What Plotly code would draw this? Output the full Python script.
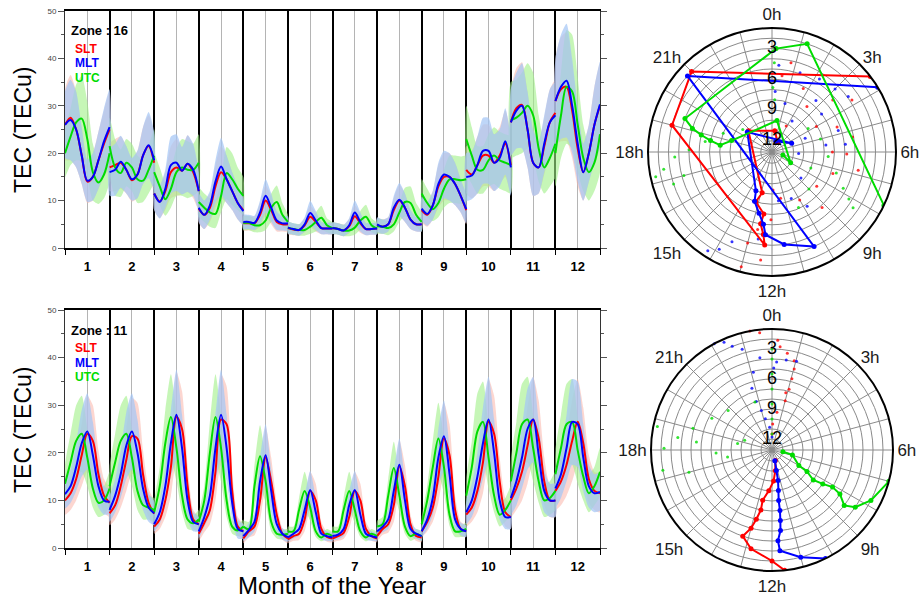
import plotly.graph_objects as go

# ---------------- data ----------------
HOURS = [0, 3, 6, 9, 12, 15, 18, 21, 24]
MONTHS = list(range(1, 13))
MONTH_LABELS = [str(m) for m in MONTHS]
Y_TICKS = [0, 10, 20, 30, 40, 50]
HOUR_LABELS = ['0h', '3h', '6h', '9h', '12h', '15h', '18h', '21h']
RADIAL_LABELS = [3, 6, 9, 12]

# Zone 16 (top), TEC per month at HOURS (local time within the month box)
z16_slt = [
    [26, 27.5, 25, 19.5, 14, 15, 18.5, 22, 25],
    [17, 17.5, 18, 16.5, 14.3, 15.5, 19.5, 21.5, 18],
    [11.5, 9.8, 12, 16, 17, 16.3, 17.8, 16, 12],
    [8.3, 7, 8.5, 13, 16, 14.5, 12, 9.5, 8],
    [5.2, 5.2, 5.2, 7, 10, 8, 5.5, 5, 5],
    [4.2, 3.9, 3.8, 4.8, 6.6, 5.5, 4.2, 4.1, 4.1],
    [4.2, 4, 3.7, 4.6, 6.7, 5.2, 4, 4, 4.1],
    [4.8, 4.5, 5, 8, 10, 8.5, 6, 5, 5],
    [8, 7, 9, 13, 15, 15, 13.5, 11, 8],
    [16.5, 15.5, 17.5, 19.5, 19.5, 18, 19.5, 22, 17.5],
    [26.5, 29.5, 30.2, 25, 18, 17, 21.5, 26.5, 28.5],
    [31, 33.5, 34, 29, 21, 16, 20, 26, 30],
]
z16_mlt = [
    [26, 27, 25, 19.5, 14.2, 15, 18.5, 22.5, 25.5],
    [16, 16.5, 18.2, 16.5, 14.5, 15.5, 19.5, 21.7, 18.5],
    [11.5, 9.7, 12.5, 17.5, 18, 16.3, 17.8, 16.5, 12],
    [8.5, 7, 9, 14, 17.2, 14.5, 12, 9.5, 7.8],
    [5.5, 5.5, 5.3, 7.5, 11, 8.5, 5.8, 5.2, 5.2],
    [4.3, 4, 3.8, 5, 7.4, 5.8, 4.2, 4.1, 4.1],
    [4.2, 4, 3.7, 4.8, 7.5, 5.5, 4, 4, 4.1],
    [5, 4.5, 5, 8.5, 10.2, 8.5, 6, 5, 5],
    [8.3, 7.2, 9, 13.5, 15.5, 15, 13.5, 11, 8.2],
    [15, 15.3, 17.5, 20.5, 20.5, 18, 19, 22.5, 17],
    [26.5, 29, 30, 25, 18, 17, 22, 26.5, 28],
    [31, 34, 35.3, 30, 22, 16, 20, 26, 30.3],
]
z16_utc = [
    [20, 23.5, 26.5, 27.3, 23, 16, 13.8, 15.5, 20],
    [21.5, 17, 15.8, 18, 17, 14.5, 14.2, 16.5, 19.5],
    [16, 13, 10.3, 12.5, 16, 17, 16.5, 16.5, 18],
    [9.7, 8.5, 7.5, 7.2, 11, 15.8, 14.5, 12.5, 11],
    [5.3, 5.3, 4.8, 4.8, 5.8, 8.5, 9.7, 7, 5.5],
    [4.3, 4, 3.8, 3.8, 4.5, 5.5, 6.4, 4.8, 4.2],
    [4.2, 4, 3.7, 3.7, 4.3, 5.8, 6.6, 4.8, 4.1],
    [4.6, 4.5, 4.2, 5, 7.5, 9.7, 9.5, 7, 5.5],
    [11.5, 9.5, 8.2, 9.5, 12.5, 14.5, 14.5, 14.3, 14.5],
    [23, 19.5, 16.5, 16.5, 18.5, 19.5, 18.5, 18, 17.5],
    [27, 27.5, 28.5, 30, 28, 21, 17, 19, 22],
    [20, 28, 34, 33, 26, 19, 16, 18, 24],
]
sd16_slt = [
    [7.5, 9, 8, 6, 4.5, 5, 6, 7, 8],
    [5, 5.5, 5.5, 5, 4.5, 5, 6, 6.5, 6],
    [3.5, 3.5, 4, 5.5, 6, 5, 6, 5.5, 4],
    [3, 3, 3, 4.5, 5.5, 5, 4, 3.5, 3],
    [1.5, 1.5, 1.5, 2.5, 3.2, 3, 2, 1.5, 1.5],
    [1.3, 1.2, 1.2, 1.5, 2.3, 2, 1.3, 1.2, 1.2],
    [1.2, 1.2, 1.2, 1.5, 2.3, 2, 1.3, 1.2, 1.2],
    [1.5, 1.5, 1.5, 2.5, 3.3, 3, 2, 1.5, 1.5],
    [2.5, 2.5, 3, 4.5, 5, 5, 4.5, 3.5, 3],
    [5, 5, 6, 6.5, 6.5, 6, 6, 7, 6],
    [7, 8.5, 9, 8, 7, 5.5, 6, 7, 7],
    [9, 11, 11.5, 10, 8, 6, 6, 8, 9],
]
sd16_mlt = [
    [7, 8.5, 8, 6, 4.5, 5, 6, 7, 8],
    [5, 5.5, 5.5, 5, 4.5, 5, 6, 7, 6],
    [3.5, 3.5, 4, 6, 6, 5, 6, 5.5, 4],
    [3, 3, 3, 4.5, 6, 5, 4, 3.5, 3],
    [1.5, 1.5, 1.5, 2.5, 3.5, 3, 2, 1.5, 1.5],
    [1.3, 1.2, 1.2, 1.5, 2.5, 2, 1.3, 1.2, 1.2],
    [1.2, 1.2, 1.2, 1.5, 2.5, 2, 1.3, 1.2, 1.2],
    [1.5, 1.5, 1.5, 2.5, 3.5, 3, 2, 1.5, 1.5],
    [2.5, 2.5, 3, 4.5, 5, 5, 4.5, 3.5, 3],
    [5, 5, 6, 7, 7, 6, 6, 7, 6],
    [7, 8, 9, 8, 7, 5.5, 6, 7, 7],
    [9, 11, 12, 10, 8, 6, 6, 8, 9],
]
sd16_utc = [
    [5, 6, 8, 9, 8, 6, 4.5, 5, 6],
    [6, 6, 5, 5, 5, 5, 4.5, 5, 5.5],
    [4, 4, 3.5, 4, 5, 6, 6, 5.5, 6],
    [3, 3, 3, 3, 3.5, 5.5, 5.5, 4.5, 4],
    [1.5, 1.5, 1.5, 1.5, 2, 3, 3.5, 2.5, 1.5],
    [1.2, 1.2, 1.2, 1.2, 1.5, 2, 2.5, 1.5, 1.2],
    [1.2, 1.2, 1.2, 1.2, 1.5, 2, 2.5, 1.5, 1.2],
    [1.5, 1.5, 1.5, 1.5, 2, 3, 3.5, 2.5, 2],
    [3, 3, 2.5, 3, 4, 5, 5, 5, 5],
    [7, 6, 5, 5, 5.5, 6, 6, 6, 6],
    [8, 8, 8.5, 9, 9, 7, 5.5, 6, 7],
    [7, 9, 12, 12, 10, 7, 6, 6, 8],
]

# Zone 11 (bottom)
z11_slt = [
    [10, 11.5, 14.5, 19.5, 24, 22.5, 15.5, 11, 9.5],
    [7.3, 9, 13, 18.5, 23.5, 23, 15.5, 9.5, 7.2],
    [4.5, 6, 10, 17, 27.5, 25, 13, 6, 5],
    [3, 5.3, 8, 16, 27, 26, 12, 4.5, 3.5],
    [2, 3.5, 4.5, 10, 19, 14, 7, 3, 2],
    [1.8, 2.5, 3, 6, 12, 10, 4, 2.3, 2],
    [2, 2.5, 3.2, 6.5, 12, 10, 4, 2.5, 2],
    [2.5, 4, 5, 9, 17.2, 13, 5, 2.5, 2.2],
    [3.5, 5.5, 8.5, 15, 23, 19.5, 8, 4, 3.5],
    [7, 8.5, 12, 18, 26.5, 24, 14, 7.5, 6.5],
    [10, 12.5, 16, 21.5, 27, 23, 14, 10, 10],
    [12, 14, 17.5, 22.5, 26.5, 22, 14.5, 12, 11.5],
]
z11_mlt = [
    [11.3, 13, 17, 22, 24.5, 19.5, 13, 10, 9.7],
    [8, 11, 15.5, 21.5, 24.5, 20, 12.5, 8.5, 7.3],
    [5, 7.5, 13, 22, 28, 21, 10, 5.5, 5],
    [3.5, 6.5, 11, 21, 28, 21, 9.5, 4, 3.5],
    [2.5, 3.8, 5.5, 14, 19.5, 12, 5, 3, 2.3],
    [2.2, 3, 4, 8, 12.2, 7.5, 3, 2.5, 2.2],
    [2.5, 2.8, 4, 9, 12.2, 7, 3, 2.5, 2.2],
    [3.5, 4.5, 6, 12, 17.5, 10, 4, 3, 2.5],
    [3.5, 6, 10.5, 19, 23.5, 15.5, 6, 4, 3.5],
    [7.5, 10, 15, 22, 27, 20, 10, 6.5, 6.5],
    [10.5, 14, 19, 25, 27, 19.5, 12, 10, 10],
    [12.5, 15.5, 21, 26.5, 26, 19, 13, 11.5, 11.8],
]
z11_utc = [
    [13.5, 18, 22.5, 24, 19, 12.5, 9.5, 10, 12.5],
    [13, 18, 22.5, 24, 19, 12, 9, 8.5, 8],
    [7.5, 13, 22, 27.5, 21, 11, 6, 5.2, 6],
    [5.5, 10, 20, 27.5, 21, 10, 4.5, 3.7, 4.5],
    [4.5, 4, 13, 19.3, 14, 5.5, 3, 2.8, 3],
    [3.5, 3.5, 8, 12, 8.5, 3.5, 2.2, 3, 2.5],
    [3.5, 3.5, 8, 12, 8, 3.5, 2.2, 3, 2.5],
    [4.5, 5, 11, 16.8, 11, 4.5, 2.5, 3, 2.5],
    [5, 10, 17, 23, 17, 7, 3.5, 3.5, 4],
    [11, 17, 24.5, 26.5, 19, 11, 7, 8, 10],
    [14, 20, 26, 27, 21, 14, 10, 10.5, 12],
    [15.5, 21, 26, 26.5, 20.5, 15, 11.5, 13, 16],
]
sd11_slt = [
    [3, 3.5, 4.5, 6.5, 8, 7.5, 5, 3.5, 3],
    [2.5, 3, 4.5, 6.5, 8, 7.5, 5, 3, 2.5],
    [1.5, 2, 3.5, 6, 9.5, 8, 4.5, 2, 1.5],
    [1.5, 2, 3, 6, 9.5, 8, 4, 2, 1.5],
    [1, 1.3, 1.8, 4, 6.5, 5, 2.5, 1.2, 1],
    [0.8, 1, 1.3, 2.5, 4, 3.5, 1.5, 1, 0.8],
    [0.8, 1, 1.3, 2.5, 4, 3.5, 1.5, 1, 0.8],
    [1, 1.2, 1.8, 3.5, 5.5, 4.5, 2, 1, 1],
    [1.2, 2, 3, 5.5, 7.5, 6.5, 3, 1.5, 1.2],
    [2.5, 3, 4.5, 6.5, 9, 8, 5, 3, 2.5],
    [3.5, 4.5, 6, 8, 9, 8, 5, 3.5, 3.5],
    [4, 5, 6.5, 8.5, 9, 7.5, 5, 4, 4],
]
sd11_mlt = [
    [3, 3.5, 5, 7, 8, 7, 4.5, 3, 2.5],
    [2.5, 3.5, 5, 7, 8, 7, 4.5, 3, 2.5],
    [1.5, 2.5, 4, 7, 9.5, 7, 4, 2, 1.5],
    [1.5, 2, 4, 7, 9.5, 7, 3.5, 2, 1.5],
    [1, 1.5, 2, 5, 6.5, 4.5, 2, 1.2, 1],
    [0.8, 1, 1.5, 3, 4, 3, 1.2, 1, 0.8],
    [0.8, 1, 1.5, 3, 4, 3, 1.2, 1, 0.8],
    [1, 1.2, 2, 4, 5.5, 4, 1.5, 1, 1],
    [1.2, 2, 3.5, 6, 7.5, 5.5, 2, 1.3, 1.2],
    [2.5, 3.5, 5, 7.5, 9, 7, 4, 2.5, 2.5],
    [3.5, 5, 6.5, 8.5, 9, 7, 4.5, 3.5, 3.5],
    [4, 5, 7, 9, 9, 7, 4.5, 4, 4],
]
sd11_utc = [
    [4, 6, 7.5, 8, 6, 4, 3, 3, 3.5],
    [4, 6, 7.5, 8, 6, 4, 3, 2.5, 2.5],
    [2, 4, 7, 9, 7, 3.5, 2, 1.5, 2],
    [1.5, 3, 6.5, 9, 7, 3.5, 1.5, 1.2, 1.5],
    [1.2, 1.5, 4.5, 6.5, 4.5, 2, 1, 1, 1],
    [1, 1, 2.5, 4, 2.8, 1.2, 0.8, 1, 0.8],
    [1, 1, 2.5, 4, 2.8, 1.2, 0.8, 1, 0.8],
    [1.2, 1.5, 3.5, 5.5, 3.5, 1.5, 1, 1, 1],
    [1.5, 3, 5.5, 7.5, 5.5, 2.3, 1.2, 1.2, 1.3],
    [3.5, 5.5, 8, 8.5, 6.5, 3.5, 2.5, 2.5, 3],
    [4.5, 6.5, 8.5, 9, 7, 4.5, 3.5, 3.5, 4],
    [5, 7, 8.5, 9, 7, 5, 4, 4, 5],
]

# Polar: hour of maximum TEC for each month (radius = month, 1 outside, 12 centre)
p16_slt = [3.5, 21.0, 19.0, 12.3, 12.4, 12.6, 12.5, 13.2, 12.9, 20.8, 0.5, 2.0]
p16_mlt = [3.9, 20.8, 10.4, 11.5, 12.3, 12.45, 12.8, 13.3, 13.5, 20.6, 4.4, 1.3]
p16_utc = [7.7, 1.2, 0.15, 19.4, 19.1, 18.9, 18.7, 18.5, 19.05, 0.6, 8.0, 7.0]
p11_slt = [11.6, 12.0, 12.8, 13.25, 13.0, 12.85, 12.7, 12.7, 12.3, 11.8, 11.4, 10.8]
p11_mlt = [10.25, 11.0, 11.7, 11.75, 11.6, 11.55, 11.5, 11.5, 11.4, 11.25, 11.2, 11.0]
p11_utc = [7.0, 7.8, 8.3, 8.5, 8.2, 8.1, 8.25, 8.4, 8.1, 8.0, 6.9, 6.6]

# Polar scattered points (hour, month-radius)
d16_slt = [(0.5, 5.6), (1.75, 6.2), (3.3, 5.3), (3.8, 3.8), (5.3, 5.1), (6.0, 7.2), (6.1, 5.8),
           (4.0, 8.1), (1.9, 10.2), (11.9, 9.4), (12.06, 6.5), (12.7, 5.4), (13.0, 3.9),
           (13.0, 1.5), (10.0, 7.7), (8.5, 7.6), (7.3, 6.8), (2.5, 7.5), (4.6, 6.3), (9.2, 5.8),
           (11.3, 8.5), (12.4, 2.5), (0.8, 4.2), (6.8, 4.5)]
d16_mlt = [(0.3, 4.6), (1.3, 4.9), (2.2, 4.6), (3.0, 4.4), (3.6, 3.9), (2.7, 6.5), (3.5, 7.0),
           (4.8, 6.3), (5.6, 5.9), (1.0, 8.2), (2.2, 9.5), (4.5, 9.6), (5.5, 7.8), (12.6, 4.5),
           (13.6, 3.5), (13.9, 2.3), (14.2, 1.6), (11.5, 8.3), (10.5, 8.2), (0.2, 7.2),
           (6.2, 10.5), (8.8, 9.3), (9.8, 6.8)]
d16_utc = [(0.1, 4.4), (0.05, 6.8), (0.2, 8.0), (3.8, 8.9), (5.0, 8.2), (6.3, 7.6), (7.2, 6.5),
           (7.8, 5.3), (8.1, 4.3), (8.3, 3.5), (7.5, 9.0), (9.0, 8.0), (10.3, 7.1), (17.2, 1.5),
           (17.4, 2.4), (17.8, 3.6), (18.1, 5.0), (18.6, 6.5), (19.4, 8.0), (20.5, 9.5),
           (16.8, 3.0), (17.0, 4.2)]
d11_slt = [(0.0, 11.5), (0.1, 10.5), (0.5, 9.3), (1.0, 8.0), (1.05, 6.8), (1.04, 5.7), (1.02, 4.7),
           (0.93, 3.9), (0.6, 3.3), (0.3, 2.75), (0.2, 2.1), (23.6, 1.3), (23.3, 1.0), (0.9, 7.2)]
d11_mlt = [(0.0, 11.8), (23.6, 10.8), (23.2, 9.9), (23.0, 9.0), (22.8, 8.0), (22.8, 6.6),
           (23.1, 5.1), (0.08, 4.9), (1.03, 3.9), (0.6, 4.0), (0.2, 4.3), (22.9, 2.6),
           (22.4, 1.3), (22.1, 1.0), (23.5, 3.8), (22.6, 2.0)]
d11_utc = [(0.0, 11.5), (0.0, 10), (0.0, 8.5), (0.0, 7), (0.0, 5.5), (0.0, 4), (0.0, 3),
           (22.7, 8.0), (20.8, 7.2), (19.85, 6.3), (19.03, 4.9), (18.5, 3.6), (18.77, 1.4),
           (18.06, 2.3), (18.7, 9.6), (17.4, 8.6), (19.3, 10.2), (17.8, 7.5), (18.4, 5.5),
           (17.0, 4.5), (17.3, 2.0)]

# ---------------- styling ----------------
RED, BLUE, GREEN = 'rgb(255,0,0)', 'rgb(0,0,255)', 'rgb(0,220,0)'
BAND_RED = 'rgba(250,180,170,0.55)'
BAND_GREEN = 'rgba(160,240,135,0.6)'
BAND_BLUE = 'rgba(165,198,245,0.72)'
FONT = 'Liberation Sans, Arial, sans-serif'

W, H = 923, 598
OFF = 0  # body margin removed by post_script below


def PX(x):
    return (x - OFF) / W


def PY(y):
    return 1 - (y - OFF) / H


def xpos(m, h):
    return m - 0.5 + h / 24.0


def line_xy(series):
    xs, ys = [], []
    for m, vals in zip(MONTHS, series):
        xs += [xpos(m, h) for h in HOURS] + [None]
        ys += list(vals) + [None]
    return xs, ys


def band_xy(series, sd):
    xs, ys = [], []
    for m, vals, s in zip(MONTHS, series, sd):
        up = [v + d for v, d in zip(vals, s)]
        lo = [max(v - d, 0.3) for v, d in zip(vals, s)]
        hx = [xpos(m, h) for h in HOURS]
        xs += hx + hx[::-1] + [hx[0], None]
        ys += up + lo[::-1] + [up[0], None]
    return xs, ys


fig = go.Figure()


def add_panel(xa, ya, slt, mlt, utc, sslt, smlt, sutc):
    for ser, sd, col in [(slt, sslt, BAND_RED), (utc, sutc, BAND_GREEN), (mlt, smlt, BAND_BLUE)]:
        bx, by = band_xy(ser, sd)
        fig.add_trace(go.Scatter(x=bx, y=by, xaxis=xa, yaxis=ya, mode='lines',
                                 line=dict(width=0, shape='spline', smoothing=0.6),
                                 fill='toself', fillcolor=col, hoverinfo='skip', showlegend=False))
    for ser, col in [(slt, RED), (utc, GREEN), (mlt, BLUE)]:
        lx, ly = line_xy(ser)
        fig.add_trace(go.Scatter(x=lx, y=ly, xaxis=xa, yaxis=ya, mode='lines',
                                 line=dict(color=col, width=2, shape='spline', smoothing=0.9),
                                 connectgaps=False, showlegend=False))


add_panel('x', 'y', z16_slt, z16_mlt, z16_utc, sd16_slt, sd16_mlt, sd16_utc)
add_panel('x2', 'y2', z11_slt, z11_mlt, z11_utc, sd11_slt, sd11_mlt, sd11_utc)


def add_polar(sub, pslt, pmlt, putc, dslt, dmlt, dutc):
    for pts, col in [(dslt, RED), (dmlt, BLUE), (dutc, GREEN)]:
        fig.add_trace(go.Scatterpolar(theta=[h * 15 for h, r in pts], r=[r for h, r in pts],
                                      mode='markers', subplot=sub, showlegend=False,
                                      marker=dict(color=col, size=3, opacity=0.8)))
    for hrs, col in [(pslt, RED), (pmlt, BLUE), (putc, GREEN)]:
        fig.add_trace(go.Scatterpolar(theta=[h * 15 for h in hrs], r=MONTHS, subplot=sub,
                                      mode='lines+markers', showlegend=False, cliponaxis=True,
                                      line=dict(color=col, width=2),
                                      marker=dict(color=col, size=5)))
    fig.add_trace(go.Scatterpolar(theta=[0] * len(RADIAL_LABELS), r=RADIAL_LABELS, subplot=sub,
                                  mode='text', text=[str(v) for v in RADIAL_LABELS],
                                  textfont=dict(size=18, color='black', family=FONT),
                                  showlegend=False))


add_polar('polar', p16_slt, p16_mlt, p16_utc, d16_slt, d16_mlt, d16_utc)
add_polar('polar2', p11_slt, p11_mlt, p11_utc, d11_slt, d11_mlt, d11_utc)

BOUNDS = [m - 0.5 for m in MONTHS] + [12.5]


def xaxis_cfg(domain, anchor):
    return dict(domain=domain, anchor=anchor, range=[0.5, 12.5], automargin=False,
                tickvals=MONTHS, ticktext=['<b>%s</b>' % t for t in MONTH_LABELS],
                ticks='outside', ticklen=5, tickcolor='rgba(0,0,0,0)',
                tickfont=dict(size=13, color='black', family=FONT),
                showgrid=True, gridcolor='#b4b4b4', gridwidth=1.3, zeroline=False,
                minor=dict(tickvals=BOUNDS, showgrid=True, gridcolor='black', gridwidth=2,
                           ticks='outside', ticklen=5, tickcolor='black', tickwidth=1.2),
                showline=True, linecolor='black', linewidth=2, mirror=True)


def yaxis_cfg(domain, anchor):
    return dict(domain=domain, anchor=anchor, range=[0, 50], tickvals=Y_TICKS, automargin=False,
                ticks='outside', ticklen=6, tickcolor='#555', tickwidth=1,
                tickfont=dict(size=8, color='#444', family=FONT),
                minor=dict(tickvals=[5, 15, 25, 35, 45], ticks='outside', ticklen=3,
                           tickcolor='#555'),
                showgrid=False, zeroline=False, showline=True, linecolor='#333',
                linewidth=1, mirror='ticks')


def polar_cfg(cx, cy, rad):
    return dict(domain=dict(x=[PX(cx - rad), PX(cx + rad)], y=[PY(cy + rad), PY(cy - rad)]),
                bgcolor='white', hole=0,
                angularaxis=dict(rotation=90, direction='clockwise',
                                 tickvals=[i * 15 for i in range(24)],
                                 ticktext=[HOUR_LABELS[i // 3] if i % 3 == 0 else '' for i in range(24)],
                                 ticks='', showgrid=True, gridcolor='#8a8a8a', gridwidth=1,
                                 showline=True, linecolor='black', linewidth=2,
                                 tickfont=dict(size=17, color='#1a1a1a', family=FONT)),
                radialaxis=dict(range=[13.1, 1], tickvals=MONTHS, showticklabels=False,
                                ticks='', showgrid=True, gridcolor='#8a8a8a', gridwidth=1,
                                showline=False))


X_LEFT, X_RIGHT = 65, 600
fig.update_layout(
    width=W, height=H, margin=dict(l=0, r=0, t=0, b=0, autoexpand=False),
    paper_bgcolor='white', plot_bgcolor='white', showlegend=False,
    font=dict(family=FONT, color='black'),
    xaxis=xaxis_cfg([PX(X_LEFT), PX(X_RIGHT)], 'y'),
    yaxis=yaxis_cfg([PY(248), PY(11)], 'x'),
    xaxis2=xaxis_cfg([PX(X_LEFT), PX(X_RIGHT)], 'y2'),
    yaxis2=yaxis_cfg([PY(548), PY(310)], 'x2'),
    polar=polar_cfg(772, 152, 124),
    polar2=polar_cfg(772, 450, 121),
)

ann = []
for yz, zone, ys in [(31, 'Zone : 16', [49, 63, 78]),
                     (330, 'Zone : 11', [348, 363, 377])]:
    ann.append(dict(x=PX(69), y=PY(yz), xref='paper', yref='paper', text='<b>%s</b>' % zone,
                    showarrow=False, xanchor='left', yanchor='middle',
                    font=dict(size=13, color='black')))
    for yy, lab, col in zip(ys, ['SLT', 'MLT', 'UTC'], [RED, BLUE, GREEN]):
        ann.append(dict(x=PX(73), y=PY(yy), xref='paper', yref='paper', text='<b>%s</b>' % lab,
                        showarrow=False, xanchor='left', yanchor='middle',
                        font=dict(size=12, color=col)))
for yc in [130, 430]:
    ann.append(dict(x=PX(23), y=PY(yc), xref='paper', yref='paper', text='TEC (TECu)',
                    textangle=-90, showarrow=False, xanchor='center', yanchor='middle',
                    font=dict(size=23, color='black')))
ann.append(dict(x=PX(332), y=PY(585), xref='paper', yref='paper', text='Month of the Year',
                showarrow=False, xanchor='center', yanchor='middle',
                font=dict(size=24, color='black')))
fig.update_layout(annotations=ann)

fig.write_html('out.html', config={'displayModeBar': False},
               post_script="document.body.style.margin='0px';document.body.style.overflow='hidden';")
